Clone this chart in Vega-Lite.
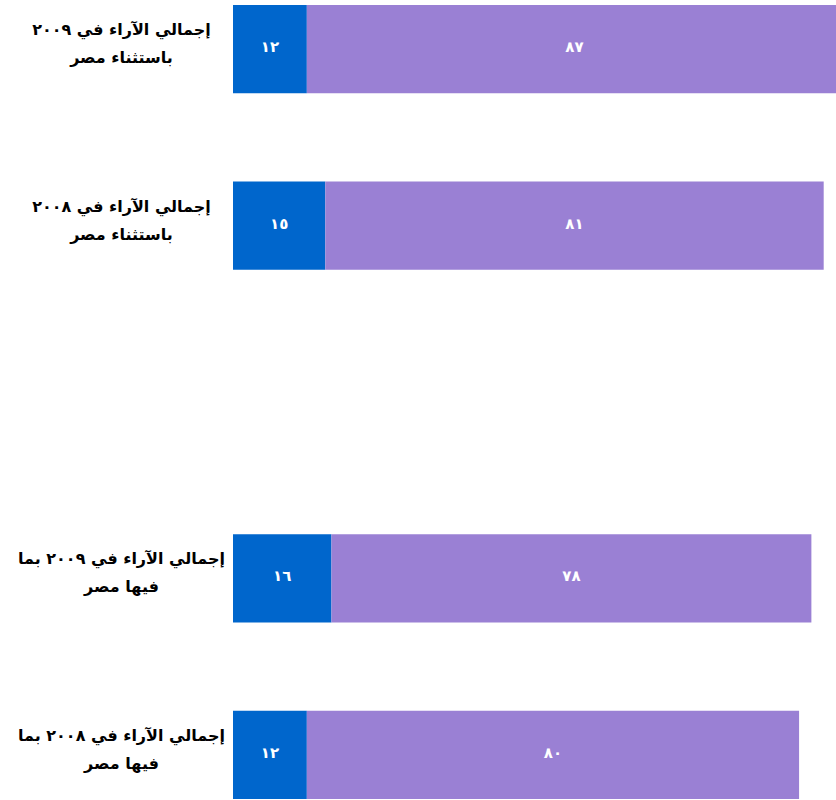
{
  "$schema": "https://vega.github.io/schema/vega-lite/v6.json",
  "width": 603,
  "height": 800,
  "autosize": {"type": "none"},
  "padding": {"left": 233, "top": 0, "right": 0, "bottom": 0},
  "background": "white",
  "config": {"view": {"stroke": null}},
  "data": {
    "values": [
      {"category": "إجمالي الآراء في ٢٠٠٩\nباستثناء مصر", "segment": "neg", "value": 12, "label": "١٢"},
      {"category": "إجمالي الآراء في ٢٠٠٩\nباستثناء مصر", "segment": "pos", "value": 87, "label": "٨٧"},
      {"category": "إجمالي الآراء في ٢٠٠٨\nباستثناء مصر", "segment": "neg", "value": 15, "label": "١٥"},
      {"category": "إجمالي الآراء في ٢٠٠٨\nباستثناء مصر", "segment": "pos", "value": 81, "label": "٨١"},
      {"category": "إجمالي الآراء في ٢٠٠٩ بما\nفيها مصر", "segment": "neg", "value": 16, "label": "١٦"},
      {"category": "إجمالي الآراء في ٢٠٠٩ بما\nفيها مصر", "segment": "pos", "value": 78, "label": "٧٨"},
      {"category": "إجمالي الآراء في ٢٠٠٨ بما\nفيها مصر", "segment": "neg", "value": 12, "label": "١٢"},
      {"category": "إجمالي الآراء في ٢٠٠٨ بما\nفيها مصر", "segment": "pos", "value": 80, "label": "٨٠"}
    ]
  },
  "encoding": {
    "y": {
      "field": "category",
      "type": "nominal",
      "title": null,
      "scale": {
        "domain": [
          "إجمالي الآراء في ٢٠٠٩\nباستثناء مصر",
          "إجمالي الآراء في ٢٠٠٨\nباستثناء مصر",
          " ",
          "إجمالي الآراء في ٢٠٠٩ بما\nفيها مصر",
          "إجمالي الآراء في ٢٠٠٨ بما\nفيها مصر"
        ],
        "paddingInner": 0.5,
        "paddingOuter": 0.028,
        "range": [0, 804]
      },
      "axis": {
        "domain": false,
        "ticks": false,
        "grid": false,
        "labelExpr": "split(datum.label, '\\n')",
        "labelAlign": "center",
        "labelBaseline": "middle",
        "labelPadding": 112,
        "labelOffset": -19,
        "labelLineHeight": 28,
        "labelLimit": 0,
        "labelFont": "DejaVu Sans",
        "labelFontWeight": "bold",
        "labelFontSize": 16,
        "labelColor": "black"
      }
    },
    "x": {
      "field": "value",
      "type": "quantitative",
      "stack": "zero",
      "scale": {"domain": [0, 98]},
      "axis": null
    }
  },
  "layer": [
    {
      "mark": {"type": "bar"},
      "encoding": {
        "color": {
          "field": "segment",
          "type": "nominal",
          "scale": {"domain": ["neg", "pos"], "range": ["#0066cc", "#9a80d4"]},
          "legend": null
        }
      }
    },
    {
      "mark": {"type": "text", "color": "white", "font": "DejaVu Sans", "fontWeight": "bold", "fontSize": 15, "baseline": "middle", "dy": -2},
      "encoding": {
        "x": {"field": "value", "type": "quantitative", "stack": "zero", "bandPosition": 0.5},
        "detail": {"field": "segment"},
        "text": {"field": "label"}
      }
    }
  ]
}
